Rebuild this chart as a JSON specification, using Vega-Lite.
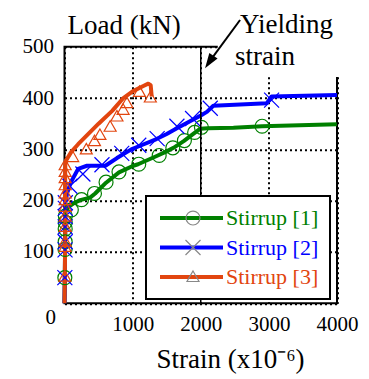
{
  "$schema": "https://vega.github.io/schema/vega-lite/v6.json",
  "width": 272.5,
  "height": 256.6,
  "autosize": {"type": "none"},
  "padding": {"left": 64.5, "top": 46.7, "right": 32, "bottom": 75.7},
  "config": {
    "font": "Liberation Serif",
    "view": {"stroke": "black", "strokeWidth": 2},
    "axis": {
      "labelFont": "Liberation Serif", "titleFont": "Liberation Serif",
      "labelColor": "black", "titleColor": "black", "titleFontWeight": "normal",
      "labelFontSize": 21, "titleFontSize": 27, "ticks": false, "domain": false,
      "grid": true, "gridColor": "black", "gridDash": [2, 3], "gridWidth": 2, "gridOpacity": 1,
      "labelFlush": false, "labelOverlap": false
    }
  },
  "datasets": {
    "curves": [
      {"series": "Stirrup [1]", "strain": 0, "load": 0},
      {"series": "Stirrup [1]", "strain": 5, "load": 50},
      {"series": "Stirrup [1]", "strain": 8, "load": 100},
      {"series": "Stirrup [1]", "strain": 10, "load": 150},
      {"series": "Stirrup [1]", "strain": 12, "load": 178},
      {"series": "Stirrup [1]", "strain": 60, "load": 188},
      {"series": "Stirrup [1]", "strain": 150, "load": 196},
      {"series": "Stirrup [1]", "strain": 230, "load": 201},
      {"series": "Stirrup [1]", "strain": 375, "load": 206},
      {"series": "Stirrup [1]", "strain": 450, "load": 214},
      {"series": "Stirrup [1]", "strain": 610, "load": 235},
      {"series": "Stirrup [1]", "strain": 800, "load": 255},
      {"series": "Stirrup [1]", "strain": 1010, "load": 268},
      {"series": "Stirrup [1]", "strain": 1080, "load": 271},
      {"series": "Stirrup [1]", "strain": 1354, "load": 287},
      {"series": "Stirrup [1]", "strain": 1500, "load": 296},
      {"series": "Stirrup [1]", "strain": 1600, "load": 303},
      {"series": "Stirrup [1]", "strain": 1750, "load": 316},
      {"series": "Stirrup [1]", "strain": 1900, "load": 331},
      {"series": "Stirrup [1]", "strain": 1990, "load": 340},
      {"series": "Stirrup [1]", "strain": 2100, "load": 341},
      {"series": "Stirrup [1]", "strain": 2480, "load": 342},
      {"series": "Stirrup [1]", "strain": 2900, "load": 345},
      {"series": "Stirrup [1]", "strain": 3997, "load": 349},
      {"series": "Stirrup [2]", "strain": 0, "load": 0},
      {"series": "Stirrup [2]", "strain": 5, "load": 50},
      {"series": "Stirrup [2]", "strain": 8, "load": 100},
      {"series": "Stirrup [2]", "strain": 10, "load": 150},
      {"series": "Stirrup [2]", "strain": 12, "load": 196},
      {"series": "Stirrup [2]", "strain": 40, "load": 215},
      {"series": "Stirrup [2]", "strain": 90, "load": 235},
      {"series": "Stirrup [2]", "strain": 200, "load": 262},
      {"series": "Stirrup [2]", "strain": 330, "load": 268},
      {"series": "Stirrup [2]", "strain": 600, "load": 268},
      {"series": "Stirrup [2]", "strain": 770, "load": 283},
      {"series": "Stirrup [2]", "strain": 980, "load": 300},
      {"series": "Stirrup [2]", "strain": 1110, "load": 307},
      {"series": "Stirrup [2]", "strain": 1350, "load": 320},
      {"series": "Stirrup [2]", "strain": 1500, "load": 330},
      {"series": "Stirrup [2]", "strain": 1650, "load": 341},
      {"series": "Stirrup [2]", "strain": 1890, "load": 358},
      {"series": "Stirrup [2]", "strain": 2000, "load": 366},
      {"series": "Stirrup [2]", "strain": 2090, "load": 373},
      {"series": "Stirrup [2]", "strain": 2185, "load": 385},
      {"series": "Stirrup [2]", "strain": 2970, "load": 390},
      {"series": "Stirrup [2]", "strain": 3040, "load": 403},
      {"series": "Stirrup [2]", "strain": 4000, "load": 406},
      {"series": "Stirrup [3]", "strain": 0, "load": 0},
      {"series": "Stirrup [3]", "strain": 5, "load": 50},
      {"series": "Stirrup [3]", "strain": 8, "load": 100},
      {"series": "Stirrup [3]", "strain": 10, "load": 150},
      {"series": "Stirrup [3]", "strain": 10, "load": 200},
      {"series": "Stirrup [3]", "strain": 10, "load": 250},
      {"series": "Stirrup [3]", "strain": 12, "load": 270},
      {"series": "Stirrup [3]", "strain": 30, "load": 280},
      {"series": "Stirrup [3]", "strain": 100, "load": 295},
      {"series": "Stirrup [3]", "strain": 200, "load": 310},
      {"series": "Stirrup [3]", "strain": 350, "load": 330},
      {"series": "Stirrup [3]", "strain": 500, "load": 350},
      {"series": "Stirrup [3]", "strain": 700, "load": 375},
      {"series": "Stirrup [3]", "strain": 864, "load": 400},
      {"series": "Stirrup [3]", "strain": 1000, "load": 413},
      {"series": "Stirrup [3]", "strain": 1150, "load": 423},
      {"series": "Stirrup [3]", "strain": 1230, "load": 428},
      {"series": "Stirrup [3]", "strain": 1265, "load": 425},
      {"series": "Stirrup [3]", "strain": 1280, "load": 403}
    ],
    "marks": [
      {"series": "Stirrup [1]", "strain": 5, "load": 50},
      {"series": "Stirrup [1]", "strain": 8, "load": 105},
      {"series": "Stirrup [1]", "strain": 10, "load": 120},
      {"series": "Stirrup [1]", "strain": 10, "load": 145},
      {"series": "Stirrup [1]", "strain": 11, "load": 158},
      {"series": "Stirrup [1]", "strain": 12, "load": 170},
      {"series": "Stirrup [1]", "strain": 100, "load": 182},
      {"series": "Stirrup [1]", "strain": 250, "load": 202},
      {"series": "Stirrup [1]", "strain": 440, "load": 214},
      {"series": "Stirrup [1]", "strain": 610, "load": 236},
      {"series": "Stirrup [1]", "strain": 800, "load": 256},
      {"series": "Stirrup [1]", "strain": 1090, "load": 271},
      {"series": "Stirrup [1]", "strain": 1390, "load": 288},
      {"series": "Stirrup [1]", "strain": 1590, "load": 303},
      {"series": "Stirrup [1]", "strain": 1760, "load": 317},
      {"series": "Stirrup [1]", "strain": 1910, "load": 333},
      {"series": "Stirrup [1]", "strain": 2010, "load": 343},
      {"series": "Stirrup [1]", "strain": 2900, "load": 345},
      {"series": "Stirrup [2]", "strain": 5, "load": 50},
      {"series": "Stirrup [2]", "strain": 8, "load": 104},
      {"series": "Stirrup [2]", "strain": 10, "load": 120},
      {"series": "Stirrup [2]", "strain": 10, "load": 149},
      {"series": "Stirrup [2]", "strain": 11, "load": 169},
      {"series": "Stirrup [2]", "strain": 12, "load": 185},
      {"series": "Stirrup [2]", "strain": 12, "load": 196},
      {"series": "Stirrup [2]", "strain": 80, "load": 228},
      {"series": "Stirrup [2]", "strain": 270, "load": 252},
      {"series": "Stirrup [2]", "strain": 550, "load": 270},
      {"series": "Stirrup [2]", "strain": 840, "load": 292},
      {"series": "Stirrup [2]", "strain": 1090, "load": 308},
      {"series": "Stirrup [2]", "strain": 1360, "load": 321},
      {"series": "Stirrup [2]", "strain": 1650, "load": 345},
      {"series": "Stirrup [2]", "strain": 1880, "load": 360},
      {"series": "Stirrup [2]", "strain": 2140, "load": 380},
      {"series": "Stirrup [2]", "strain": 3040, "load": 396},
      {"series": "Stirrup [3]", "strain": 5, "load": 52},
      {"series": "Stirrup [3]", "strain": 8, "load": 110},
      {"series": "Stirrup [3]", "strain": 10, "load": 120},
      {"series": "Stirrup [3]", "strain": 10, "load": 149},
      {"series": "Stirrup [3]", "strain": 10, "load": 169},
      {"series": "Stirrup [3]", "strain": 10, "load": 188},
      {"series": "Stirrup [3]", "strain": 10, "load": 201},
      {"series": "Stirrup [3]", "strain": 10, "load": 214},
      {"series": "Stirrup [3]", "strain": 10, "load": 230},
      {"series": "Stirrup [3]", "strain": 10, "load": 244},
      {"series": "Stirrup [3]", "strain": 10, "load": 256},
      {"series": "Stirrup [3]", "strain": 10, "load": 269},
      {"series": "Stirrup [3]", "strain": 120, "load": 285},
      {"series": "Stirrup [3]", "strain": 320, "load": 300},
      {"series": "Stirrup [3]", "strain": 440, "load": 316},
      {"series": "Stirrup [3]", "strain": 520, "load": 328},
      {"series": "Stirrup [3]", "strain": 670, "load": 344},
      {"series": "Stirrup [3]", "strain": 770, "load": 364},
      {"series": "Stirrup [3]", "strain": 860, "load": 377},
      {"series": "Stirrup [3]", "strain": 915, "load": 390},
      {"series": "Stirrup [3]", "strain": 1100, "load": 412},
      {"series": "Stirrup [3]", "strain": 1260, "load": 401}
    ]
  },
  "layer": [
    {
      "data": {"name": "curves"},
      "mark": {"type": "line", "strokeWidth": 4, "strokeJoin": "round"},
      "encoding": {
        "x": {
          "field": "strain", "type": "quantitative",
          "scale": {"domain": [0, 4000], "nice": false, "zero": false},
          "axis": {
            "values": [0, 500, 1000, 1500, 2000, 2500, 3000, 3500, 4000],
            "format": "d",
            "labelExpr": "datum.value % 1000 == 0 ? datum.label : ''",
            "labelPadding": {"condition": {"test": "datum.value == 0", "value": 3}, "value": 10},
            "labelAlign": {"condition": {"test": "datum.value == 0", "value": "right"}, "value": "center"},
            "labelOffset": {"condition": {"test": "datum.value == 0", "value": -9}, "value": 0},
            "title": "Strain (x10⁻⁶)",
            "titleX": 165.5, "titleY": 64, "titleAlign": "center", "titleBaseline": "alphabetic"
          }
        },
        "y": {
          "field": "load", "type": "quantitative",
          "scale": {"domain": [0, 500], "nice": false, "zero": false},
          "axis": {
            "values": [0, 100, 200, 300, 400, 500],
            "labelExpr": "datum.value == 0 ? '' : datum.label",
            "labelPadding": 11,
            "title": "Load (kN)",
            "titleAngle": 0, "titleX": 2.5, "titleY": -13.4, "titleAlign": "left", "titleBaseline": "alphabetic"
          }
        },
        "order": {"value": null},
        "color": {
          "field": "series", "type": "nominal",
          "scale": {"domain": ["Stirrup [1]", "Stirrup [2]", "Stirrup [3]"], "range": ["#008000", "#0000ff", "#e2450f"]},
          "legend": {
            "orient": "none", "legendX": 81.5, "legendY": 149.3, "title": null,
            "padding": 11, "fillColor": "white", "strokeColor": "black",
            "symbolType": "M-3,0H3", "symbolSize": 441, "symbolStrokeWidth": 4,
            "symbolOffset": 22, "labelOffset": 22, "labelFontSize": 22, "labelFont": "Liberation Serif",
            "clipHeight": 22, "rowPadding": 7.5, "zindex": 1,
            "encode": {
              "legend": {"update": {"strokeWidth": {"value": 2}}},
              "labels": {"update": {"fill": {"scale": "color", "field": "value"}}},
              "symbols": {"update": {"stroke": {"scale": "color", "field": "value"}, "fill": {"value": "transparent"}, "strokeWidth": {"value": 4}}}
            }
          }
        }
      }
    },
    {
      "data": {"name": "marks"},
      "mark": {"type": "point", "filled": false, "size": 225, "strokeWidth": 1.2, "opacity": 1},
      "encoding": {
        "x": {"field": "strain", "type": "quantitative"},
        "y": {"field": "load", "type": "quantitative"},
        "color": {"field": "series", "type": "nominal"},
        "shape": {
          "field": "series", "type": "nominal",
          "scale": {"range": [
            "M-0.93,0A0.93,0.93 0 1,0 0.93,0A0.93,0.93 0 1,0 -0.93,0",
            "M-1,-1L1,1M-1,1L1,-1",
            "M0,-0.8L0.8,0.6L-0.8,0.6Z"
          ]},
          "legend": {
            "orient": "none", "legendX": 81.5, "legendY": 149.3, "title": null,
            "padding": 11, "symbolSize": 225, "symbolStrokeWidth": 1.2, "symbolOffset": 25,
            "labelFontSize": 22, "labelFont": "Liberation Serif", "labelExpr": "''",
            "clipHeight": 22, "rowPadding": 7.5, "zindex": 2,
            "encode": {
              "symbols": {"update": {"stroke": {"scale": "color", "field": "value"}, "fill": {"value": "transparent"}}}
            }
          }
        }
      }
    },
    {
      "data": {"values": [{}]},
      "mark": {"type": "rect", "fill": "white"},
      "encoding": {"x": {"datum": 2250}, "x2": {"datum": 4100}, "y": {"datum": 441}, "y2": {"datum": 520}}
    },
    {
      "data": {"values": [{}]},
      "mark": {"type": "rule", "color": "black", "strokeWidth": 1.5},
      "encoding": {"x": {"datum": 2000}, "y": {"datum": 0}, "y2": {"datum": 500}}
    },
    {
      "data": {"values": [{}]},
      "mark": {"type": "rule", "color": "black", "strokeWidth": 2},
      "encoding": {"x": {"datum": 2577}, "y": {"datum": 552}, "x2": {"datum": 2122}, "y2": {"datum": 470}}
    },
    {
      "data": {"values": [{}]},
      "mark": {"type": "point", "shape": "M0,0L-0.53,1.6L0.53,1.6Z", "filled": true, "color": "black", "opacity": 1, "size": 352, "angle": 214},
      "encoding": {"x": {"datum": 2063}, "y": {"datum": 458}}
    },
    {
      "data": {"values": [{}]},
      "mark": {"type": "text", "text": "Yielding", "fontSize": 27, "align": "left", "baseline": "alphabetic", "font": "Liberation Serif", "color": "black"},
      "encoding": {"x": {"datum": 2577}, "y": {"datum": 526}}
    },
    {
      "data": {"values": [{}]},
      "mark": {"type": "text", "text": "strain", "fontSize": 27, "align": "left", "baseline": "alphabetic", "font": "Liberation Serif", "color": "black"},
      "encoding": {"x": {"datum": 2504}, "y": {"datum": 464}}
    }
  ]
}
